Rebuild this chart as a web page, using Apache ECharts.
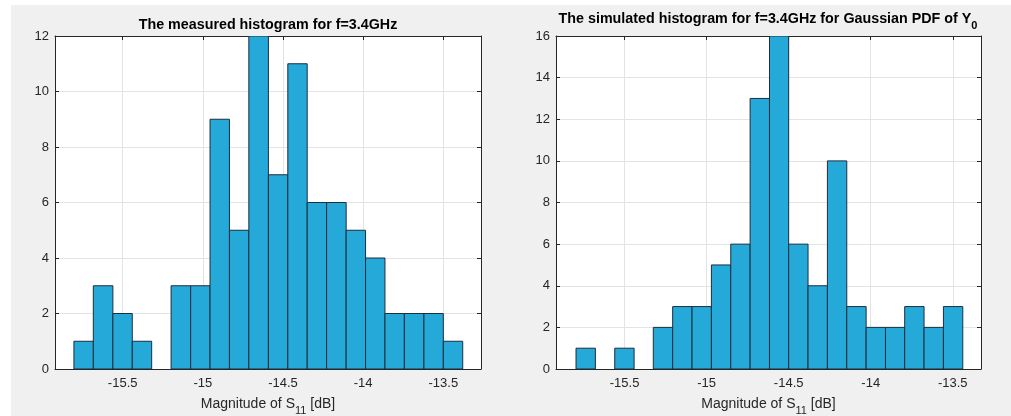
<!DOCTYPE html>
<html>
<head>
<meta charset="utf-8">
<script src="https://cdn.jsdelivr.net/npm/echarts@6/dist/echarts.min.js"></script>
<style>
html,body{margin:0;padding:0;background:#ffffff;}
#bg{position:absolute;left:11px;top:5px;width:1000px;height:411px;background:#f0f0f0;}
#main{position:absolute;left:0;top:0;width:1011px;height:416px;}
</style>
</head>
<body>
<div id="bg"></div>
<div id="main"></div>
<script>
// Measured histogram (left)
const measuredEdges = [-15.804, -15.683, -15.561, -15.440, -15.319, -15.198, -15.076, -14.955, -14.834, -14.713, -14.591, -14.470, -14.349, -14.228, -14.106, -13.985, -13.864, -13.743, -13.621, -13.500, -13.379];
const measuredCounts = [1, 3, 2, 1, 0, 3, 3, 9, 5, 12, 7, 11, 6, 6, 5, 4, 2, 2, 2, 1];
// Simulated histogram (right)
const simulatedEdges = [-15.796, -15.678, -15.560, -15.442, -15.325, -15.207, -15.089, -14.971, -14.853, -14.735, -14.617, -14.500, -14.382, -14.264, -14.146, -14.028, -13.910, -13.793, -13.675, -13.557, -13.439];
const simulatedCounts = [1, 0, 1, 0, 2, 3, 3, 5, 6, 13, 16, 6, 4, 10, 3, 2, 2, 3, 2, 3];

const leftTitle = 'The measured histogram for f=3.4GHz';
const rightTitle = 'The simulated histogram for f=3.4GHz for Gaussian PDF of Y';
const xName = 'Magnitude of S{sub|11} [dB]';

const FONT = 'Liberation Sans, Arial, sans-serif';
const AX = '#262626';
const GRIDC = '#e3e3e3';
const FILL = '#25a9d9';
const EDGE = '#1d2e3d';

function toData(edges, counts) {
  const out = [];
  for (let i = 0; i < counts.length; i++) out.push([edges[i], edges[i + 1], counts[i]]);
  return out;
}

function renderItem(params, api) {
  const c = api.value(2);
  if (!c) return null;
  const p0 = api.coord([api.value(0), 0]);
  const p1 = api.coord([api.value(1), c]);
  return {
    type: 'rect',
    shape: { x: p0[0], y: p1[1], width: p1[0] - p0[0], height: p0[1] - p1[1] },
    style: { fill: FILL, stroke: EDGE, lineWidth: 1 }
  };
}

function xMain(gi, min, max) {
  return {
    type: 'value', gridIndex: gi, position: 'bottom', min: min, max: max, splitNumber: 5,
    axisLine: { show: true, onZero: false, lineStyle: { color: AX, width: 1 } },
    axisTick: { show: true, inside: true, length: 4, lineStyle: { color: AX } },
    axisLabel: { color: AX, fontFamily: FONT, fontSize: 13, margin: 8, showMinLabel: false, showMaxLabel: false },
    splitLine: { show: true, lineStyle: { color: GRIDC, width: 1 } },
    name: xName, nameLocation: 'middle', nameGap: 23,
    nameTextStyle: {
      color: AX, fontFamily: FONT, fontSize: 14,
      rich: { sub: { fontFamily: FONT, fontSize: 11, color: AX, padding: [13, 0, 0, 0] } }
    }
  };
}
function xTop(gi, min, max) {
  return {
    type: 'value', gridIndex: gi, position: 'top', min: min, max: max, splitNumber: 5,
    axisLine: { show: true, onZero: false, lineStyle: { color: AX, width: 1 } },
    axisTick: { show: true, inside: true, length: 4, lineStyle: { color: AX } },
    axisLabel: { show: false }, splitLine: { show: false }
  };
}
function yMain(gi, max) {
  return {
    type: 'value', gridIndex: gi, position: 'left', min: 0, max: max, interval: 2,
    axisLine: { show: true, onZero: false, lineStyle: { color: AX, width: 1 } },
    axisTick: { show: true, inside: true, length: 4, lineStyle: { color: AX } },
    axisLabel: { color: AX, fontFamily: FONT, fontSize: 13, margin: 6 },
    splitLine: { show: true, lineStyle: { color: GRIDC, width: 1 } }
  };
}
function yRight(gi, max) {
  return {
    type: 'value', gridIndex: gi, position: 'right', min: 0, max: max, interval: 2,
    axisLine: { show: true, onZero: false, lineStyle: { color: AX, width: 1 } },
    axisTick: { show: true, inside: true, length: 4, lineStyle: { color: AX } },
    axisLabel: { show: false }, splitLine: { show: false }
  };
}

const chart = echarts.init(document.getElementById('main'), null, { renderer: 'canvas' });
chart.setOption({
  animation: false,
  backgroundColor: 'transparent',
  grid: [
    { left: 55, top: 36, width: 426, height: 333, show: true, backgroundColor: '#ffffff', borderWidth: 0, containLabel: false, outerBoundsMode: 'none' },
    { left: 556, top: 36, width: 425, height: 333, show: true, backgroundColor: '#ffffff', borderWidth: 0, containLabel: false, outerBoundsMode: 'none' }
  ],
  xAxis: [
    xMain(0, -15.922, -13.265),
    xTop(0, -15.922, -13.265),
    xMain(1, -15.918, -13.328),
    xTop(1, -15.918, -13.328)
  ],
  yAxis: [
    yMain(0, 12), yRight(0, 12),
    yMain(1, 16), yRight(1, 16)
  ],
  graphic: [
    { type: 'text', x: 268, y: 25, style: { text: leftTitle, font: 'bold 14.3px ' + FONT, fill: '#000', align: 'center', verticalAlign: 'middle' } },
    { type: 'text', x: 768, y: 19, style: {
        text: rightTitle + '{sub|0}', font: 'bold 14.3px ' + FONT, fill: '#000', align: 'center', verticalAlign: 'middle',
        rich: { sub: { font: 'bold 11px ' + FONT, fill: '#000', padding: [13, 0, 0, 0] } }
      } }
  ],
  series: [
    { type: 'custom', xAxisIndex: 0, yAxisIndex: 0, renderItem: renderItem, encode: { x: [0, 1], y: 2 }, data: toData(measuredEdges, measuredCounts), clip: true },
    { type: 'custom', xAxisIndex: 2, yAxisIndex: 2, renderItem: renderItem, encode: { x: [0, 1], y: 2 }, data: toData(simulatedEdges, simulatedCounts), clip: true }
  ]
});
</script>
</body>
</html>
